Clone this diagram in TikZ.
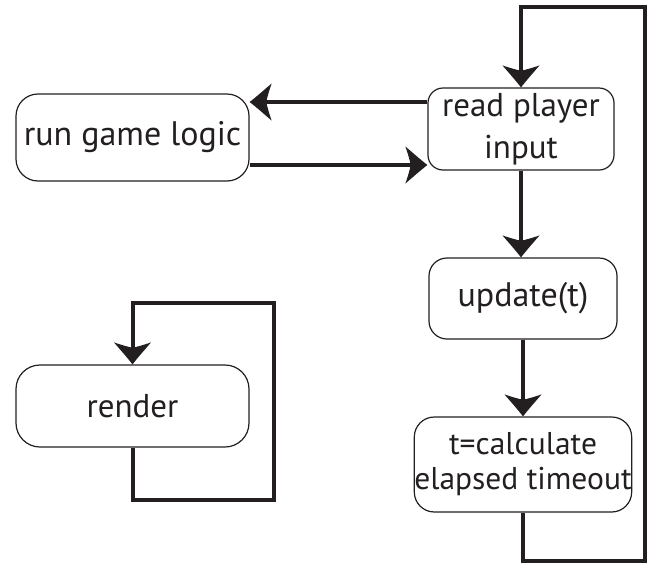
\documentclass[tikz,border=0pt]{standalone}
\usepackage{fontspec}
\setmainfont{PT Sans}
\usetikzlibrary{arrows.meta,calc}

\definecolor{ink}{HTML}{231F20}

% filled arrow head with straight flanks and a shallow curved notch at the back
\pgfdeclarearrow{
  name = Barbed,
  parameters = {\the\pgfarrowlength,\the\pgfarrowwidth},
  setup code = {
    \pgfarrowssettipend{0pt}
    \pgfarrowssetlineend{-0.7\pgfarrowlength}
    \pgfarrowssetvisualbackend{-\pgfarrowlength}
    \pgfarrowssetbackend{-\pgfarrowlength}
    \pgfarrowshullpoint{0pt}{0pt}
    \pgfarrowshullpoint{-\pgfarrowlength}{0.5\pgfarrowwidth}
    \pgfarrowshullpoint{-\pgfarrowlength}{-0.5\pgfarrowwidth}
    \pgfarrowssavethe\pgfarrowlength
    \pgfarrowssavethe\pgfarrowwidth
  },
  drawing code = {
    \pgfpathmoveto{\pgfqpoint{0pt}{0pt}}
    \pgfpathcurveto{\pgfqpoint{-0.35\pgfarrowlength}{0.16\pgfarrowwidth}}
                   {\pgfqpoint{-0.72\pgfarrowlength}{0.36\pgfarrowwidth}}
                   {\pgfqpoint{-\pgfarrowlength}{0.5\pgfarrowwidth}}
    \pgfpathcurveto{\pgfqpoint{-0.86\pgfarrowlength}{0.26\pgfarrowwidth}}
                   {\pgfqpoint{-0.78\pgfarrowlength}{0.08\pgfarrowwidth}}
                   {\pgfqpoint{-0.76\pgfarrowlength}{0pt}}
    \pgfpathcurveto{\pgfqpoint{-0.78\pgfarrowlength}{-0.08\pgfarrowwidth}}
                   {\pgfqpoint{-0.86\pgfarrowlength}{-0.26\pgfarrowwidth}}
                   {\pgfqpoint{-\pgfarrowlength}{-0.5\pgfarrowwidth}}
    \pgfpathcurveto{\pgfqpoint{-0.72\pgfarrowlength}{-0.36\pgfarrowwidth}}
                   {\pgfqpoint{-0.35\pgfarrowlength}{-0.16\pgfarrowwidth}}
                   {\pgfqpoint{0pt}{0pt}}
    \pgfpathclose
    \pgfusepathqfill
  },
  defaults = {length = 22pt, width = 37pt}
}

\tikzset{
  box/.style={draw=ink, line width=1.2pt, rectangle, inner sep=0pt,
    align=center, text=ink},
  conn/.style={draw=ink, line width=4pt},
  flow/.style={conn, -{Barbed}},
}

\begin{document}
\begin{tikzpicture}[x=1pt, y=-1pt]
  \useasboundingbox (0,0) rectangle (649,563);

  % process boxes
  \node[box, minimum width=233pt, minimum height=87pt, rounded corners=22pt,
    font=\fontsize{34}{42}\selectfont]
    (run) at (132.5,137.5) {run game logic};
  \node[box, minimum width=186pt, minimum height=82pt, rounded corners=15pt,
    font=\fontsize{33}{42}\selectfont]
    (read) at (521,129) {read player\\input};
  \node[box, minimum width=188pt, minimum height=81pt, rounded corners=18pt,
    font=\fontsize{34}{42}\selectfont]
    (update) at (523,298.5) {update(t)};
  \node[box, minimum width=216pt, minimum height=95pt, rounded corners=20pt,
    font=\fontsize{31.5}{35}\selectfont]
    (calc) at (523,464.5) {t=calculate\\elapsed timeout};
  \node[box, minimum width=233pt, minimum height=82pt, rounded corners=24pt,
    font=\fontsize{33}{42}\selectfont]
    (render) at (132.5,406) {render};

  % corners of the two loops
  \coordinate (mainBR) at (645,561);
  \coordinate (mainTR) at (645,7);
  \coordinate (rendBR) at (274,500);
  \coordinate (rendTR) at (274,303);

  % exchange between input and game logic
  \path (read.west) ++(0,-27) coordinate (toRun);
  \path (run.east) ++(0,27.5) coordinate (toRead);
  \draw[flow] (toRun) -- (run.east |- toRun);
  \draw[flow] (toRead) -- (read.west |- toRead);

  % main column
  \draw[flow] (read.south) -- (read.south |- update.north);
  \draw[flow] (update.south) -- (update.south |- calc.north);

  % back to the top of the main loop
  \draw[flow] (calc.south) |- (mainBR) -- (mainTR) -| (read.north);

  % render loop
  \draw[flow] (render.south) |- (rendBR) -- (rendTR) -| (render.north);
\end{tikzpicture}
\end{document}
